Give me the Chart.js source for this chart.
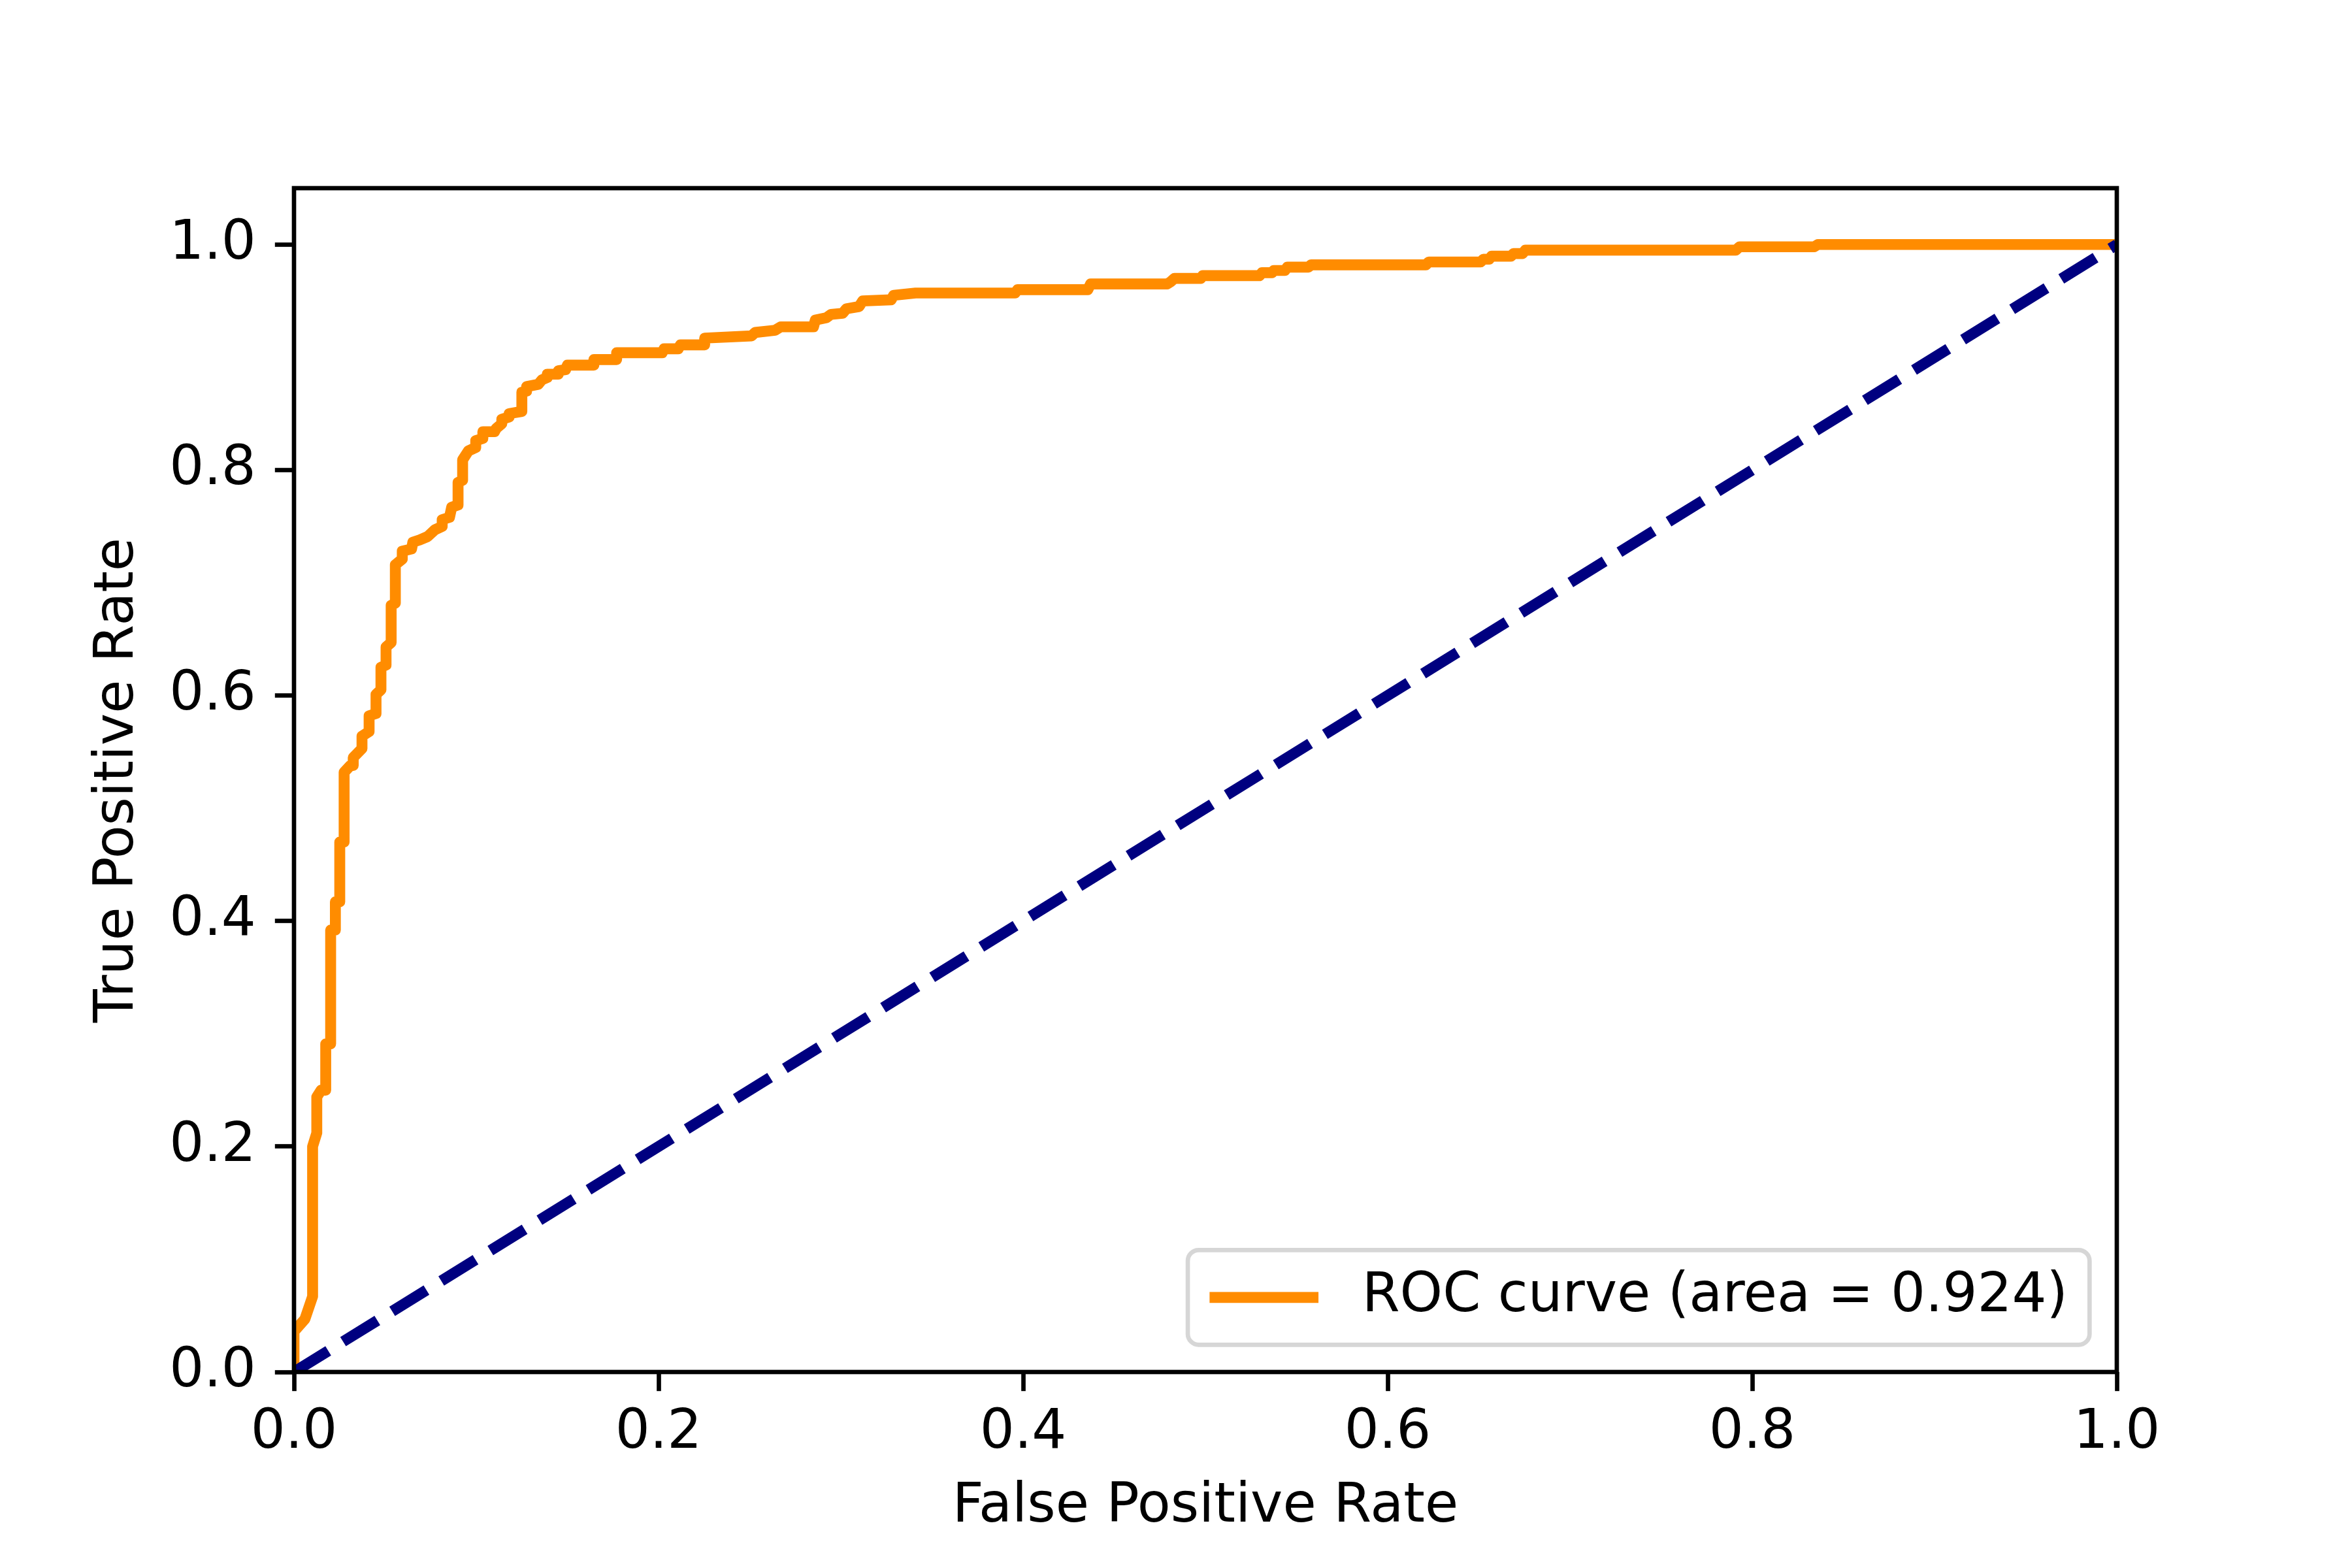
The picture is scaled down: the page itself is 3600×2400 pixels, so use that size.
<!DOCTYPE html>
<html>
<head>
<meta charset="utf-8">
<script src="https://cdn.jsdelivr.net/npm/chart.js@4.4.1/dist/chart.umd.min.js"></script>
<style>
  html, body { margin: 0; padding: 0; background: #fff; }
  canvas { display: block; }
</style>
</head>
<body>
<canvas id="roc-chart" width="3600" height="2400" style="width:3600px;height:2400px"></canvas>
<script>
// Données
const rocFpr = [0, 0, 0.006, 0.0102, 0.0102, 0.0125, 0.0125, 0.0149, 0.0174, 0.0174,
    0.0201, 0.0201, 0.0227, 0.0227, 0.0251, 0.0251, 0.0275, 0.0275, 0.031, 0.0325,
    0.0325, 0.0373, 0.0373, 0.0412, 0.0412, 0.045, 0.045, 0.0477, 0.0477, 0.0505,
    0.0505, 0.0533, 0.0533, 0.0556, 0.0556, 0.0594, 0.0594, 0.0645, 0.0652, 0.069,
    0.0733, 0.0773, 0.0813, 0.0813, 0.0853, 0.0865, 0.090, 0.090, 0.0925, 0.0925,
    0.0957, 0.0997, 0.0997, 0.1036, 0.1036, 0.110, 0.111, 0.114, 0.114, 0.118,
    0.118, 0.125, 0.125, 0.1276, 0.1276, 0.134, 0.136, 0.1389, 0.1389, 0.145,
    0.145, 0.149, 0.150, 0.1645, 0.1645, 0.177, 0.177, 0.202, 0.203, 0.2108,
    0.212, 0.2253, 0.2253, 0.251, 0.253, 0.264, 0.267, 0.285, 0.286, 0.292,
    0.2946, 0.301, 0.303, 0.310, 0.312, 0.3276, 0.329, 0.341, 0.3956, 0.397,
    0.4355, 0.437, 0.479, 0.481, 0.483, 0.4975, 0.4985, 0.5297, 0.531, 0.5366,
    0.5375, 0.5436, 0.545, 0.5566, 0.558, 0.621, 0.6225, 0.651, 0.6525, 0.6557,
    0.657, 0.6677, 0.669, 0.674, 0.6755, 0.791, 0.793, 0.834, 0.836, 1.0];
const rocTpr = [0, 0.036, 0.047, 0.067, 0.200, 0.212, 0.244, 0.250, 0.250, 0.291,
    0.291, 0.392, 0.392, 0.417, 0.417, 0.470, 0.470, 0.532, 0.538, 0.538,
    0.545, 0.553, 0.564, 0.568, 0.582, 0.584, 0.601, 0.605, 0.625, 0.627,
    0.643, 0.647, 0.680, 0.682, 0.716, 0.721, 0.728, 0.730, 0.736, 0.738,
    0.741, 0.747, 0.750, 0.756, 0.758, 0.767, 0.769, 0.789, 0.791, 0.809,
    0.817, 0.820, 0.826, 0.828, 0.834, 0.834, 0.837, 0.841, 0.845, 0.847,
    0.850, 0.852, 0.869, 0.870, 0.874, 0.876, 0.880, 0.882, 0.885, 0.885,
    0.888, 0.889, 0.893, 0.893, 0.898, 0.898, 0.904, 0.904, 0.9075, 0.9075,
    0.911, 0.911, 0.917, 0.919, 0.922, 0.924, 0.927, 0.927, 0.933, 0.935,
    0.938, 0.939, 0.943, 0.945, 0.950, 0.951, 0.955, 0.957, 0.957, 0.960,
    0.960, 0.965, 0.965, 0.967, 0.970, 0.970, 0.9724, 0.9724, 0.975, 0.975,
    0.977, 0.977, 0.980, 0.980, 0.982, 0.982, 0.9845, 0.9845, 0.987, 0.987,
    0.9897, 0.9897, 0.992, 0.992, 0.995, 0.995, 0.998, 0.998, 1.0, 1.0];
const chanceFpr = [0, 1];
const chanceTpr = [0, 1];
const rocLabel = 'ROC curve (area = 0.924)';
const xTicks = [0, 0.2, 0.4, 0.6, 0.8, 1.0];
const yTicks = [0, 0.2, 0.4, 0.6, 0.8, 1.0];
const xRange = [0, 1];
const yRange = [0, 1.05];

document.addEventListener('DOMContentLoaded', function() {
    const FONT = 'DejaVu Sans';
    const FS = 83.33;          // 10 pt à 600 dpi
    const LW = 16.67;          // 2 pt
    const SPINE = 6.67;        // 0.8 pt
    const TICK = 29.2;         // 3.5 pt

    function toPoints(xs, ys) {
        return xs.map((x, i) => ({ x: x, y: ys[i] }));
    }

    // Cadre complet (les quatre bords) par-dessus les courbes
    const spinesPlugin = {
        id: 'spines',
        afterDatasetsDraw(chart) {
            const { ctx, chartArea: a } = chart;
            ctx.save();
            ctx.strokeStyle = '#000';
            ctx.lineWidth = SPINE;
            ctx.lineJoin = 'miter';
            ctx.strokeRect(a.left, a.top, a.right - a.left, a.bottom - a.top);
            ctx.restore();
        }
    };

    // Légende dans le coin inférieur droit, comme matplotlib
    const legendPlugin = {
        id: 'innerLegend',
        afterDraw(chart) {
            const { ctx, chartArea: a } = chart;
            const ds = chart.data.datasets[1];
            ctx.save();
            ctx.font = FS + 'px "' + FONT + '"';
            const textW = ctx.measureText(ds.label).width;
            const pad = 0.4 * FS, handle = 2 * FS, gap = 0.8 * FS;
            const boxW = pad + handle + gap + textW + pad;
            const boxH = 145;
            const right = a.right - 0.5 * FS;
            const bottom = a.bottom - 0.5 * FS;
            const left = right - boxW, top = bottom - boxH;
            const r = 0.2 * FS;
            ctx.beginPath();
            ctx.roundRect(left, top, boxW, boxH, r);
            ctx.fillStyle = 'rgba(255,255,255,0.8)';
            ctx.fill();
            ctx.lineWidth = SPINE;
            ctx.strokeStyle = 'rgba(204,204,204,0.8)';
            ctx.stroke();
            const cy = top + boxH / 2;
            ctx.beginPath();
            ctx.moveTo(left + pad, cy);
            ctx.lineTo(left + pad + handle, cy);
            ctx.strokeStyle = ds.borderColor;
            ctx.lineWidth = LW;
            ctx.lineCap = 'butt';
            ctx.stroke();
            ctx.fillStyle = '#000';
            ctx.textBaseline = 'middle';
            ctx.textAlign = 'left';
            ctx.fillText(ds.label, left + pad + handle + gap, cy);
            ctx.restore();
        }
    };

    const tickFont = { family: FONT, size: FS };

    new Chart(document.getElementById('roc-chart'), {
        type: 'scatter',
        data: {
            datasets: [{
                label: 'chance',
                data: toPoints(chanceFpr, chanceTpr),
                showLine: true,
                borderColor: '#000080',
                borderWidth: LW,
                borderDash: [3.7 * LW, 1.6 * LW],
                borderCapStyle: 'butt',
                pointRadius: 0,
                clip: 0,
                order: 0
            }, {
                label: rocLabel,
                data: toPoints(rocFpr, rocTpr),
                showLine: true,
                borderColor: '#ff8c00',
                borderWidth: LW,
                borderJoinStyle: 'round',
                borderCapStyle: 'square',
                pointRadius: 0,
                clip: 0,
                order: 1
            }]
        },
        options: {
            responsive: false,
            devicePixelRatio: 1,
            animation: false,
            layout: { padding: { left: 0, right: 360, top: 288, bottom: 0 } },
            plugins: {
                legend: { display: false },
                tooltip: { enabled: false },
                title: { display: false }
            },
            scales: {
                x: {
                    type: 'linear',
                    min: xRange[0],
                    max: xRange[1],
                    afterBuildTicks: scale => { scale.ticks = xTicks.map(v => ({ value: v })); },
                    afterFit: scale => { scale.height = 300; },
                    grid: { drawOnChartArea: false, drawTicks: true, tickLength: TICK, tickWidth: SPINE, tickColor: '#000' },
                    border: { display: false },
                    ticks: {
                        color: '#000',
                        font: tickFont,
                        padding: 15,
                        maxRotation: 0,
                        callback: v => v.toFixed(1)
                    },
                    title: {
                        display: true,
                        text: 'False Positive Rate',
                        color: '#000',
                        font: { family: FONT, size: FS, lineHeight: 1 },
                        padding: { top: 0, bottom: 51 }
                    }
                },
                y: {
                    type: 'linear',
                    min: yRange[0],
                    max: yRange[1],
                    afterBuildTicks: scale => { scale.ticks = yTicks.map(v => ({ value: v })); },
                    afterFit: scale => { scale.width = 450; },
                    grid: { drawOnChartArea: false, drawTicks: true, tickLength: TICK, tickWidth: SPINE, tickColor: '#000' },
                    border: { display: false },
                    ticks: {
                        color: '#000',
                        font: tickFont,
                        padding: 29,
                        callback: v => v.toFixed(1)
                    },
                    title: {
                        display: true,
                        text: 'True Positive Rate',
                        color: '#000',
                        font: { family: FONT, size: FS, lineHeight: 1 },
                        padding: { top: 140, bottom: 0 }
                    }
                }
            }
        },
        plugins: [spinesPlugin, legendPlugin]
    });
});
</script>
</body>
</html>
